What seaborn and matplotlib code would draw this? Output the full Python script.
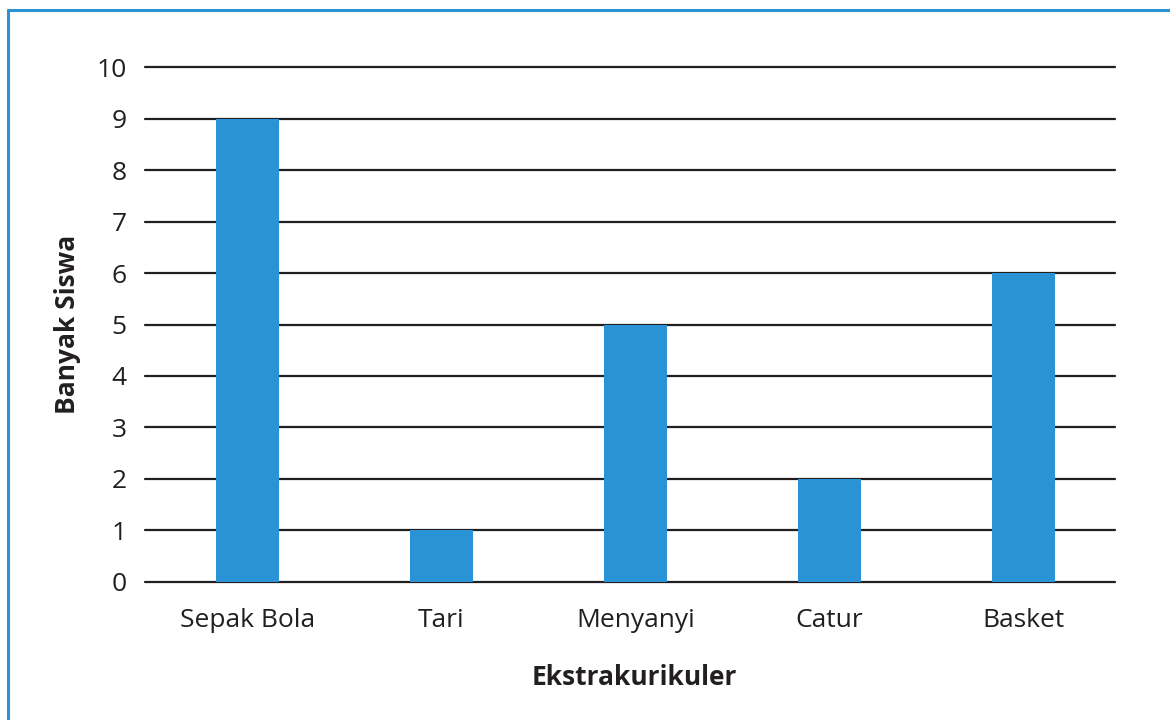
import matplotlib
matplotlib.use("Agg")
import matplotlib.pyplot as plt
from matplotlib.lines import Line2D
import seaborn as sns
import pandas as pd

# Extracurricular activities and number of students in each
kegiatan = ["Sepak Bola", "Tari", "Menyanyi", "Catur", "Basket"]
banyak_siswa = [9, 1, 5, 2, 6]
y_ticks = [0, 1, 2, 3, 4, 5, 6, 7, 8, 9, 10]

df = pd.DataFrame({"Ekstrakurikuler": kegiatan, "Banyak Siswa": banyak_siswa})

sns.set_style("white")
plt.rcParams["font.family"] = ["Open Sans", "DejaVu Sans"]

text_color = "#231f20"
bar_color = "#2a93d5"

fig = plt.figure(figsize=(11.7, 7.2), dpi=100)
ax = fig.add_axes([0.1239, 0.1917, 0.829, 0.7152])

# horizontal reference lines behind the bars
for v in y_ticks:
    ax.axhline(v, color=text_color, linewidth=1.6, zorder=0, clip_on=False)

sns.barplot(data=df, x="Ekstrakurikuler", y="Banyak Siswa", color=bar_color,
            saturation=1, width=0.325, linewidth=0, edgecolor="none", ax=ax, zorder=2)

ax.set_xlim(-0.528, 4.472)
ax.set_ylim(0, 10)
ax.set_yticks(y_ticks)
ax.set_yticklabels([str(v) for v in y_ticks])
ax.tick_params(axis="both", length=0, labelsize=19, colors=text_color)
ax.tick_params(axis="y", pad=13)
ax.tick_params(axis="x", pad=19)
for s in ax.spines.values():
    s.set_visible(False)

ax.set_xlabel("Ekstrakurikuler", fontsize=19, fontweight="bold", color=text_color, labelpad=22)
ax.xaxis.label.set_x(0.505)
ax.set_ylabel("Banyak Siswa", fontsize=19, fontweight="bold", color=text_color, labelpad=11)

# blue frame along the top and left edges of the figure
frame_color = "#2a93d5"
fig.add_artist(Line2D([7.5 / 1170, 1.0], [1 - 10 / 720, 1 - 10 / 720],
                      color=frame_color, linewidth=2.2, transform=fig.transFigure))
fig.add_artist(Line2D([8 / 1170, 8 / 1170], [0.0, 1 - 9.5 / 720],
                      color=frame_color, linewidth=2.2, transform=fig.transFigure))

fig.savefig("out.png", dpi=100)
